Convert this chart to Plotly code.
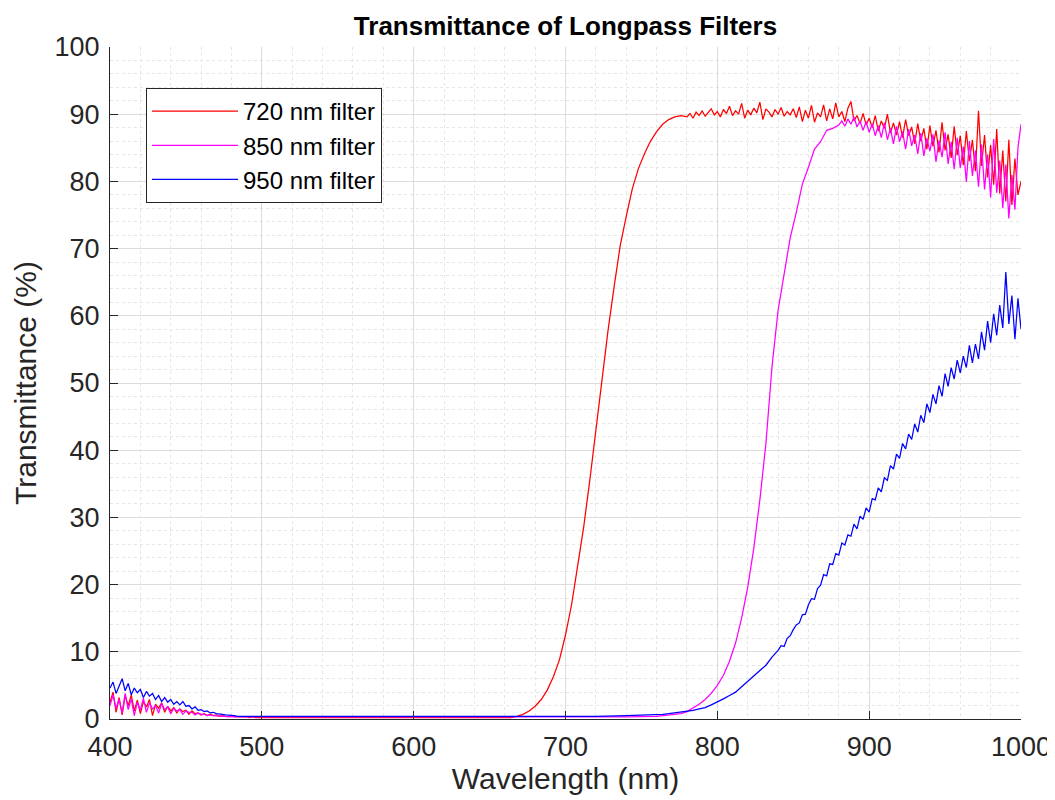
import plotly.graph_objects as go

# ─── data ──────────────────────────────────────────────────

# wavelength sampling grids (nm): 2 nm where noisy, coarser where flat
X_720 = (list(range(400, 502, 2)) + list(range(520, 661, 20))
         + list(range(664, 777, 4)) + list(range(780, 1001, 2)))
X_850 = (list(range(400, 502, 2)) + list(range(520, 761, 20))
         + list(range(764, 877, 4)) + list(range(880, 1001, 2)))
X_950 = (list(range(400, 502, 2)) + list(range(520, 741, 20))
         + list(range(760, 837, 4)) + list(range(840, 1001, 2)))

# transmittance (%)
T_720 = [
    # 400-500
    2.5, 4.0, 1.0, 3.2, 0.6, 3.5, 2.0, 3.6, 1.2, 2.8, 0.8, 2.6, 1.8, 2.9, 0.5, 2.2, 1.6,
    2.4, 1.0, 1.9, 1.2, 1.7, 0.9, 1.5, 1.1, 1.3, 0.7, 1.2, 0.8, 0.9, 0.6, 0.8, 0.5, 0.7,
    0.5, 0.6, 0.4, 0.5, 0.4, 0.4, 0.3, 0.4, 0.3, 0.3, 0.3, 0.3, 0.2, 0.3, 0.2, 0.2, 0.2,
    # 520-660
    0.2, 0.2, 0.2, 0.2, 0.2, 0.2, 0.2, 0.2,
    # 664-776
    0.2, 0.4, 0.7, 1.2, 1.9, 2.9, 4.3, 6.3, 8.8, 12.5, 17.0, 22.8, 28.6, 35.5, 43.2,
    50.3, 57.8, 64.3, 70.4, 74.8, 78.9, 81.9, 84.1, 86.0, 87.4, 88.5, 89.2, 89.6, 89.8,
    # 780-1000
    89.6, 90.1, 89.4, 90.3, 89.8, 90.5, 89.7, 90.2, 90.8, 89.9, 90.4, 89.6, 90.7, 90.1,
    91.2, 89.8, 90.5, 90.0, 91.6, 89.4, 90.6, 89.9, 90.9, 90.2, 91.8, 89.2, 90.8, 90.3,
    89.6, 90.7, 90.0, 91.0, 89.7, 90.4, 89.9, 90.8, 89.5, 91.1, 88.9, 90.6, 89.4, 91.3,
    88.8, 90.2, 89.6, 91.4, 89.0, 90.8, 89.3, 91.7, 89.6, 90.4, 88.9, 90.9, 91.9, 89.0,
    89.8, 88.6, 90.1, 88.4, 89.4, 88.0, 89.8, 87.5, 89.0, 87.9, 90.0, 87.2, 88.7, 86.9,
    88.9, 86.5, 89.2, 86.8, 88.1, 85.6, 88.6, 86.0, 87.9, 84.8, 88.3, 85.2, 87.6, 84.3,
    88.8, 84.6, 87.0, 83.5, 88.2, 83.9, 86.8, 82.4, 87.5, 83.0, 86.2, 81.5, 90.5, 82.3,
    86.9, 80.6, 85.4, 79.5, 87.8, 78.2, 84.6, 77.0, 86.2, 76.5, 83.4, 78.0, 80.0,
]

T_850 = [
    # 400-500
    2.0, 3.6, 1.6, 2.9, 0.9, 3.8, 1.4, 3.0, 0.5, 2.5, 1.3, 3.1, 1.0, 2.4, 1.5, 2.0, 0.9,
    2.3, 1.4, 1.8, 0.8, 1.6, 1.2, 1.4, 0.7, 1.2, 1.0, 1.0, 0.6, 0.9, 0.7, 0.7, 0.5, 0.6,
    0.5, 0.5, 0.4, 0.5, 0.4, 0.3, 0.4, 0.3, 0.3, 0.3, 0.3, 0.2, 0.3, 0.2, 0.2, 0.2, 0.2,
    # 520-760
    0.2, 0.2, 0.2, 0.2, 0.2, 0.2, 0.2, 0.2, 0.2, 0.2, 0.3, 0.3, 0.4,
    # 764-876
    0.5, 0.55, 0.6, 0.8, 1.1, 1.6, 2.2, 2.9, 3.8, 5.0, 6.5, 8.6, 11.3, 15.0, 19.6,
    25.4, 32.6, 41.0, 52.4, 60.8, 66.0, 71.6, 75.4, 79.6, 82.1, 84.8, 85.9, 87.6, 87.9,
    # 880-1000
    88.4, 89.0, 88.2, 89.3, 88.5, 89.6, 88.1, 89.0, 87.6, 88.9, 87.3, 88.6, 86.8, 88.3,
    86.5, 88.7, 86.2, 87.9, 85.6, 88.2, 85.9, 87.4, 84.8, 87.8, 85.3, 86.9, 84.1, 87.2,
    83.8, 86.4, 84.5, 87.0, 82.9, 86.1, 83.6, 87.3, 82.6, 85.9, 81.8, 86.5, 82.0, 85.2,
    79.9, 86.0, 80.8, 84.6, 79.2, 85.5, 78.8, 84.0, 77.6, 86.3, 78.3, 83.1, 76.0, 82.5,
    74.5, 81.0, 75.8, 85.0, 88.5,
]

T_950 = [
    # 400-500
    4.6, 5.5, 3.8, 5.0, 6.0, 4.2, 5.3, 3.6, 4.6, 3.9, 4.4, 3.2, 4.1, 3.4, 3.8, 2.9, 3.5,
    2.6, 3.2, 2.5, 2.9, 2.2, 2.6, 2.1, 2.6, 1.9, 2.0, 1.5, 1.8, 1.3, 1.4, 1.1, 1.2, 0.9,
    1.0, 0.8, 0.8, 0.7, 0.6, 0.6, 0.5, 0.5, 0.4, 0.4, 0.4, 0.3, 0.3, 0.3, 0.3, 0.3, 0.3,
    # 520-740
    0.3, 0.3, 0.3, 0.3, 0.3, 0.3, 0.3, 0.3, 0.3, 0.4, 0.4, 0.5,
    # 760-836
    0.6, 0.7, 0.8, 0.9, 1.0, 1.1, 1.3, 1.5, 1.7, 2.1, 2.5, 3.0, 3.5, 4.0, 4.8, 5.6,
    6.5, 7.3, 8.0, 9.2,
    # 840-1000
    10.2, 10.9, 10.8, 12.0, 12.4, 13.3, 14.0, 14.3, 15.5, 15.6, 17.0, 17.9, 17.8, 19.4,
    19.9, 21.5, 21.3, 23.1, 23.0, 24.6, 24.4, 26.2, 25.9, 27.4, 27.2, 29.0, 28.3, 30.2,
    29.7, 31.4, 30.8, 32.8, 32.6, 34.4, 33.8, 35.9, 35.5, 37.7, 37.2, 39.4, 38.8, 41.0,
    40.2, 42.4, 41.6, 43.9, 42.7, 45.2, 44.1, 46.9, 45.6, 48.3, 46.9, 49.6, 48.0, 51.4,
    49.5, 52.3, 50.6, 53.4, 51.5, 54.0, 52.3, 55.6, 53.0, 55.8, 53.6, 57.6, 54.9, 59.2,
    56.0, 60.3, 57.1, 61.6, 58.2, 66.5, 58.8, 63.0, 56.5, 62.6, 58.0,
]

SERIES = [
    ("720 nm filter", X_720, T_720, "#ff0000"),
    ("850 nm filter", X_850, T_850, "#ff00ff"),
    ("950 nm filter", X_950, T_950, "#0000ff"),
]

X_TICKS = [400, 500, 600, 700, 800, 900, 1000]
Y_TICKS = [0, 10, 20, 30, 40, 50, 60, 70, 80, 90, 100]

# ─── style ─────────────────────────────────────
# page body keeps its default 8px margin, so the figure is a bit smaller
FIG_W, FIG_H = 1047, 792
FONT = "Liberation Sans, Arial, sans-serif"
TEXT = "#262626"
GRID = "#dcdcdc"
MINOR = "#e6e6e6"

fig = go.Figure()

for name, xs, ys, color in SERIES:
    fig.add_trace(go.Scatter(
        x=xs, y=ys, name=name, mode="lines",
        line=dict(color=color, width=1.25),
    ))

axis_common = dict(
    showline=True, linecolor=TEXT, linewidth=1.3,
    ticks="inside", tickcolor=TEXT, tickwidth=1.3, ticklen=8,
    tickfont=dict(family=FONT, size=27, color=TEXT),
    showgrid=True, gridcolor=GRID, gridwidth=1,
    zeroline=False, mirror=False, automargin=False,
)

fig.update_xaxes(
    range=[400, 1000], tickvals=X_TICKS, ticklabelstandoff=3,
    minor=dict(dtick=20, showgrid=True, gridcolor=MINOR, griddash="dot", ticks=""),
    title=dict(text="Wavelength (nm)", font=dict(family=FONT, size=30, color=TEXT), standoff=2),
    **axis_common,
)
fig.update_yaxes(
    range=[0, 100], tickvals=Y_TICKS, ticklabelstandoff=4,
    minor=dict(dtick=2, showgrid=True, gridcolor=MINOR, griddash="dot", ticks=""),
    title=dict(text="Transmittance (%)", font=dict(family=FONT, size=30, color=TEXT), standoff=8),
    **axis_common,
)

fig.update_layout(
    width=FIG_W, height=FIG_H,
    margin=dict(l=102, r=34, t=39, b=81),
    paper_bgcolor="white", plot_bgcolor="white",
    title=dict(
        text="<b>Transmittance of Longpass Filters</b>",
        font=dict(family=FONT, size=26, color="#000000"),
        x=0.5, xref="paper", xanchor="center", y=0.978, yanchor="middle",
    ),
    legend=dict(
        x=0.0395, y=0.939, xanchor="left", yanchor="top",
        bgcolor="white", bordercolor=TEXT, borderwidth=1,
        font=dict(family=FONT, size=24, color="#000000"),
        itemwidth=86,
    ),
    showlegend=True,
)

fig.write_html("out.html")
